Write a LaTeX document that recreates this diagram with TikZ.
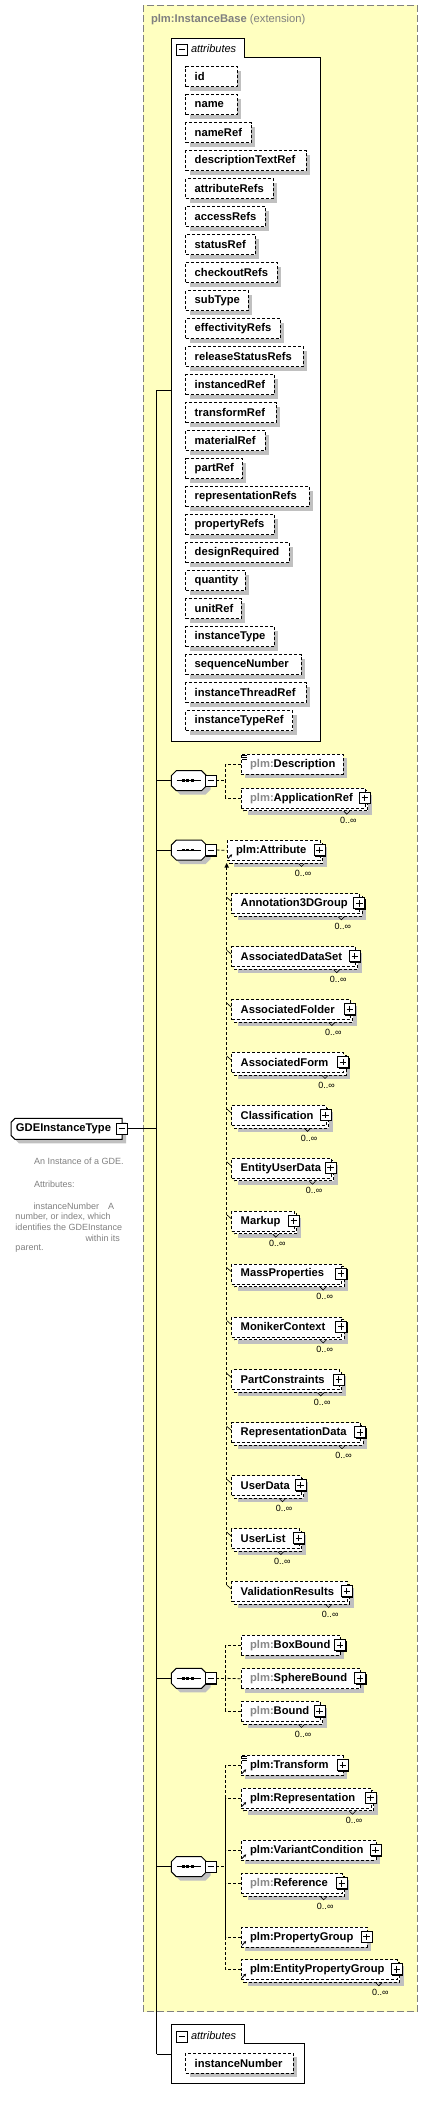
\documentclass[tikz,border=0pt]{standalone}
\usepackage{fontspec}
\setmainfont{Liberation Sans}
\usetikzlibrary{shadows,calc,arrows.meta}
\definecolor{ybg}{HTML}{FFFFC0}
\definecolor{bgray}{HTML}{808080}
\definecolor{shgray}{HTML}{C0C0C0}
\definecolor{pfx}{HTML}{888888}
\definecolor{dsc}{HTML}{808080}
\newcommand\pf{{\color{pfx}plm:}}
% element box: name, left, top, right, text, kind (0 single, 1 multiple, 2 single without plus)
\newcommand\mkel[6]{%
  \pgfmathsetmacro\mytw{#4-#2-18}%
  \ifcase#6\relax
    \node[elem, shadowed] (#1) at (#2,#3) {\hbox to \mytw pt{#5\hss}};
    \pic at (#4,{#3+10}) {plusic};
  \or
    \draw[dbox, fill=white, shadowed] ({#2+3},{#3+3}) rectangle ({#4+3},{#3+23});
    \node[elem] (#1) at (#2,#3) {\hbox to \mytw pt{#5\hss}};
    \node[cardlbl] at ({#4-16.5},{#3+33}) {0..∞};
    \draw[cardtick] ({#4-21},{#3+23.5}) -- ({#4-18},{#3+26.5}) -- ({#4-15},{#3+23.5});
    \pic at (#4,{#3+10}) {plusic};
  \or
    \node[elem, shadowed] (#1) at (#2,#3) {\hbox to \mytw pt{#5\hss}};
  \fi
}
\newcommand\refic[1]{%
  \draw[line width=0.9pt, -{Stealth[length=2.6pt,width=2.8pt]}] ($(#1.south west)+(1.2,-2.2)$) -- +(4.2,-4.2);}
\newcommand\simic[1]{%
  \draw[line width=0.6pt] ($(#1.north west)+(1.6,1.6)$) -- +(4.4,0) ($(#1.north west)+(1.6,3.4)$) -- +(4.4,0) ($(#1.north west)+(1.6,5.2)$) -- +(4.4,0);}
% sequence compositor: name, centre y
\newcommand\seqc[2]{%
  \draw[fill=white, line width=1pt, shadowed] (171.3,{#2-5}) -- (176.3,{#2-10}) -- (201.5,{#2-10}) -- (206.5,{#2-5}) -- (206.5,{#2+5}) -- (201.5,{#2+10}) -- (176.3,{#2+10}) -- (171.3,{#2+5}) -- cycle;
  \coordinate (#1) at (171.3,#2);
  \coordinate (#1o) at (216.3,#2);
  \draw[line width=1pt] (176.7,#2) -- (200.7,#2);
  \fill (182,{#2-1.4}) rectangle +(2.8,2.8);
  \fill (186.4,{#2-1.4}) rectangle +(2.8,2.8);
  \fill (190.8,{#2-1.4}) rectangle +(2.8,2.8);
  \pic at (210.8,#2) {minusic};
}
\begin{document}
\begin{tikzpicture}[x=1pt,y=-1pt, line width=1pt,
  shadowed/.style={general shadow={fill=shgray, shadow xshift=4pt, shadow yshift=-4pt}},
  dbox/.style={draw=black, line width=0.8pt, dash pattern=on 3pt off 2pt},
  elem/.style={dbox, fill=white, anchor=north west, minimum height=20pt, inner xsep=9pt, inner ysep=0pt, font=\bfseries\fontsize{11.2}{13}\selectfont},
  cardlbl/.style={font=\fontsize{9}{10}\selectfont, inner sep=0pt},
  cardtick/.style={line width=0.6pt},
  dcon/.style={line width=0.8pt, dash pattern=on 3pt off 2pt},
  dtext/.style={anchor=west, inner sep=0pt, text=dsc, font=\fontsize{9}{10}\selectfont},
  attrlbl/.style={anchor=west, inner sep=0pt, font=\itshape\fontsize{11}{12}\selectfont},
  plusic/.pic={
    \fill[black] (-4.5,-4.5) rectangle (6.5,6.5);
    \draw[fill=white, line width=0.8pt] (-5.5,-5.5) rectangle (5.5,5.5);
    \draw[line width=0.8pt] (-3.2,0) -- (3.2,0) (0,-3.2) -- (0,3.2);
  },
  minusic/.pic={
    \fill[black] (-4.5,-4.5) rectangle (6.5,6.5);
    \draw[fill=white, line width=0.8pt] (-5.5,-5.5) rectangle (5.5,5.5);
    \draw[line width=0.8pt] (-3.2,0) -- (3.2,0);
  }]
\useasboundingbox (0,0) rectangle (428,2101);

% extension box
\draw[fill=ybg, draw=bgray, line width=1pt, dash pattern=on 7pt off 3pt] (143.3,5.3) rectangle (417.3,2011.7);
\node[anchor=west, inner sep=0pt, text=bgray, font=\fontsize{11.2}{13}\selectfont] (title) at (150.5,19.3) {\textbf{plm:InstanceBase} (extension)};

% attributes group of the base type
\draw[fill=white, line width=1pt] (171.3,741.7) -- (171.3,38.3) -- (244.3,38.3) -- (244.3,57.3) -- (320.3,57.3) -- (320.3,741.7) -- cycle;
\coordinate (attrIn) at (171.3,390.3);
\pic at (181.7,49.7) {minusic};
\node[attrlbl] (attrTitle) at (190.5,48.8) {attributes};
\foreach \nm/\rx [count=\i from 0] in {id/236.7, name/236.7, nameRef/250.7, descriptionTextRef/305.7, attributeRefs/272.7, accessRefs/265, statusRef/255, checkoutRefs/277, subType/247.7, effectivityRefs/279.7, releaseStatusRefs/302.7, instancedRef/273.7, transformRef/276, materialRef/265, partRef/241.7, representationRefs/308.7, propertyRefs/273.7, designRequired/288.7, quantity/244.7, unitRef/240.7, instanceType/273.7, sequenceNumber/300.7, instanceThreadRef/305.7, instanceTypeRef/292.3}{
  \pgfmathsetmacro\ty{66.3+28*\i}
  \mkel{attr\i}{185.3}{\ty}{\rx}{\nm}{2}
}

% main element
\draw[fill=white, line width=1pt, shadowed] (15,1118.3) -- (122,1118.3) -- (122,1139.3) -- (15,1139.3) -- (11,1135.3) -- (11,1122.3) -- cycle;
\node[anchor=west, inner sep=0pt, font=\bfseries\fontsize{11.2}{13}\selectfont] (main) at (15.5,1128.8) {GDEInstanceType};
\pic at (121.7,1128.7) {minusic};
\coordinate (mainOut) at (127.2,1128.3);

\node[dtext] (d1) at (33.7,1161.7) {An Instance of a GDE.};
\node[dtext] (d2) at (33.7,1184) {Attributes:};
\node[dtext] (d3) at (33,1206) {instanceNumber\hspace{9pt}A};
\node[dtext] (d4) at (15,1216.7) {number, or index, which};
\node[dtext] (d5) at (15,1227.7) {identifies the GDEInstance};
\node[dtext] (d6) at (85,1238.3) {within its};
\node[dtext] (d7) at (15,1249) {parent.};

% trunk
\coordinate (trunkTop) at (156.7,390.3);
\coordinate (trunkMid) at (156.7,1128.3);
\coordinate (trunkBot) at (156.7,2054);
\draw (mainOut) -- (trunkMid);
\draw (attrIn) -- (trunkTop) -- (trunkBot);

% sequences
\seqc{s1}{780.7}
\seqc{s2}{850}
\seqc{s3}{1678.3}
\seqc{s4}{1866.7}
\draw (s1) -- (s1 -| trunkTop);
\draw (s2) -- (s2 -| trunkTop);
\draw (s3) -- (s3 -| trunkTop);
\draw (s4) -- (s4 -| trunkTop);

% sequence 1
\mkel{desc}{240.7}{754}{342.7}{\pf Description}{2}
\simic{desc}
\mkel{appref}{240.7}{787.7}{364.8}{\pf ApplicationRef}{1}
\coordinate (j1) at (225.7,780.7);
\draw[dcon] (s1o) -- (j1);
\draw[dcon] (desc.west) -| (j1);
\draw[dcon] (appref.west) -| (j1);

% sequence 2 : substitution group
\mkel{attrib}{226.7}{840}{319.5}{plm:Attribute}{1}
\refic{attrib}
\draw[dcon] (s2o) -- (attrib.west);
\foreach \nm/\rx [count=\k from 0] in {Annotation3DGroup/359.3, AssociatedDataSet/354.7, AssociatedFolder/349.8, AssociatedForm/343, Classification/325.5, EntityUserData/330.5, Markup/293.8, MassProperties/341.2, MonikerContext/341.2, PartConstraints/338.7, RepresentationData/360, UserData/300.5, UserList/298.8, ValidationResults/346.7}{
  \pgfmathsetmacro\ty{893.3+52.9*\k}
  \mkel{m\k}{231.3}{\ty}{\rx}{\nm}{1}
  \draw[cardtick] ($(m\k.north west)+(-4.6,4)$) -- ($(m\k.north west)+(0,8)$);
}
\draw[dcon] ($(attrib.south west)+(0,6.5)$) -- ($(m13.north west)+(-4.6,4)$);
\fill ($(attrib.south west)+(0,2.2)$) -- ($(attrib.south west)+(-2.3,6.8)$) -- ($(attrib.south west)+(2.3,6.8)$) -- cycle;

% sequence 3
\mkel{boxb}{240.7}{1635}{340}{\pf BoxBound}{0}
\mkel{sphb}{240.7}{1668.3}{360}{\pf SphereBound}{0}
\mkel{bnd}{240.7}{1701}{319.5}{\pf Bound}{1}
\coordinate (j3) at (225.7,1678.3);
\draw[dcon] (s3o) -- (j3);
\draw[dcon] (boxb.west) -| (j3);
\draw[dcon] (sphb.west) -- (j3);
\draw[dcon] (bnd.west) -| (j3);

% sequence 4
\mkel{trf}{240.7}{1755}{342.8}{plm:Transform}{0}
\simic{trf}\refic{trf}
\mkel{rep}{240.7}{1787.7}{370.5}{plm:Representation}{1}
\refic{rep}
\mkel{varc}{240.7}{1840}{375.5}{plm:VariantCondition}{0}
\refic{varc}
\mkel{refe}{240.7}{1873.3}{341.7}{\pf Reference}{1}
\mkel{pgrp}{240.7}{1926.7}{366.5}{plm:PropertyGroup}{0}
\refic{pgrp}
\mkel{epg}{240.7}{1959.3}{396.8}{plm:EntityPropertyGroup}{1}
\refic{epg}
\coordinate (j4) at (225.7,1866.7);
\draw[dcon] (s4o) -- (j4);
\draw[dcon] (trf.west) -| (j4);
\draw[dcon] (rep.west) -| (j4);
\draw[dcon] (varc.west) -| (j4);
\draw[dcon] (refe.west) -| (j4);
\draw[dcon] (pgrp.west) -| (j4);
\draw[dcon] (epg.west) -| (j4);

% own attributes
\draw[fill=white, line width=1pt] (171.3,2083.3) -- (171.3,2024.3) -- (244.3,2024.3) -- (244.3,2043.3) -- (304.3,2043.3) -- (304.3,2083.3) -- cycle;
\coordinate (attr2In) at (171.3,2054);
\pic at (181.7,2036.5) {minusic};
\node[attrlbl] (attr2Title) at (190.5,2035.5) {attributes};
\mkel{inum}{185.3}{2052.7}{292.7}{instanceNumber}{2}
\draw (trunkBot) -- (attr2In);
\end{tikzpicture}
\end{document}
